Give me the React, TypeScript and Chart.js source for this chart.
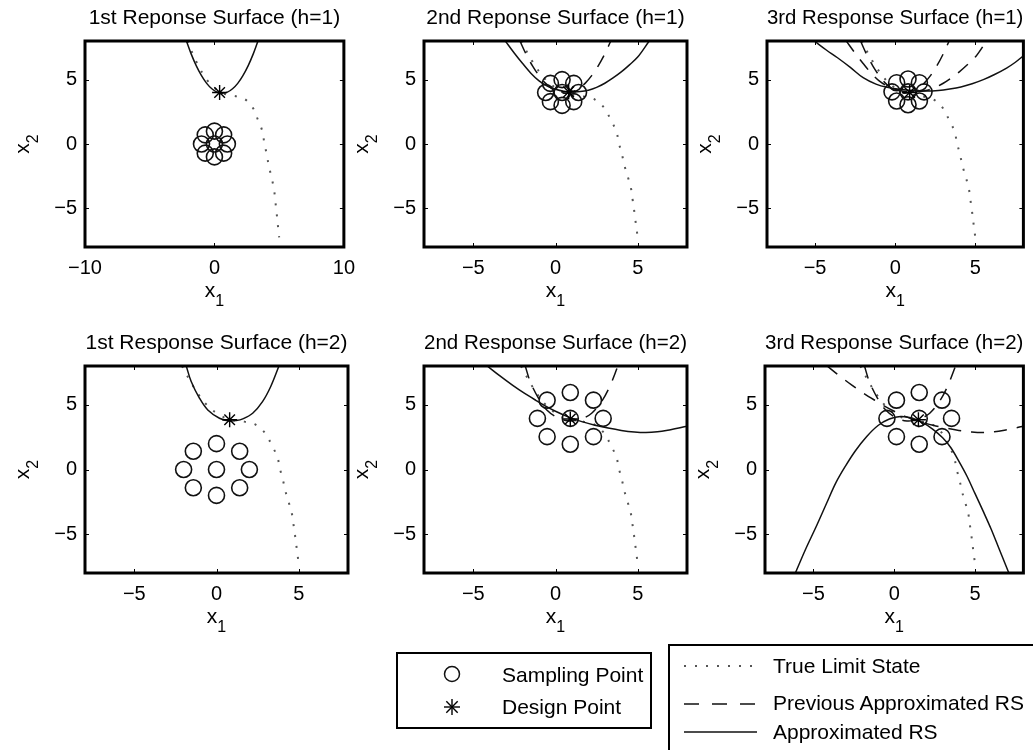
import React, { useEffect, useRef } from "react";
import { Chart, registerables } from "chart.js";

Chart.register(...registerables);

const FONT = '"Liberation Sans", Arial, Helvetica, sans-serif';

// ---------- data ----------
const PANEL_TITLES = [
  "1st Reponse Surface (h=1)",
  "2nd Reponse Surface (h=1)",
  "3rd Response Surface (h=1)",
  "1st Response Surface (h=2)",
  "2nd Response Surface (h=2)",
  "3rd Response Surface (h=2)",
];
const TICKS_WIDE = [-10, 0, 10];
const TICKS = [-5, 0, 5];
const Y_TICKS = [-5, 0, 5];

const LEGEND_MARKERS = ["Sampling Point", "Design Point"];
const LEGEND_LINES = ["True Limit State", "Previous Approximated RS", "Approximated RS"];

// true limit state
const TRUE_LS_X = [-2.1, -1.4, -0.6, 0.2, 0.9, 1.7, 2.4, 3.0, 3.35, 3.7, 3.85, 4.05, 4.2, 4.4, 4.6, 4.7, 4.8, 4.9, 5.0];
const TRUE_LS_Y = [8.0, 6.4, 5.0, 4.2, 3.85, 3.7, 3.45, 2.75, 1.9, 1.0, 0.1, -0.85, -1.7, -2.55, -3.5, -4.4, -5.3, -6.3, -7.25];

// approximated response surfaces, h = 1
const RS1_H1_X = [-2.15, -1.8, -1.4, -1.0, -0.6, -0.2, 0.2, 0.6, 1.0, 1.4, 1.8, 2.2, 2.6, 3.0, 3.35];
const RS1_H1_Y = [7.96, 7.0, 6.07, 5.31, 4.71, 4.29, 4.03, 3.95, 4.03, 4.29, 4.71, 5.31, 6.07, 7.0, 7.96];
const RS2_H1_X = [-3.05, -2.5, -2.0, -1.5, -1.0, -0.5, 0, 0.5, 1.0, 1.5, 2.0, 2.5, 3.0, 3.5, 4.0, 4.5, 5.0, 5.7];
const RS2_H1_Y = [8.0, 7.05, 6.25, 5.5, 4.9, 4.5, 4.25, 4.1, 4.05, 4.07, 4.18, 4.4, 4.72, 5.13, 5.6, 6.15, 6.75, 8.0];
const RS3_H1_X = [-5.05, -4.3, -3.6, -2.8, -2.0, -1.2, -0.5, 0.3, 1.1, 1.9, 2.7, 3.4, 4.1, 4.8, 5.5, 6.2, 6.95, 7.5, 8.0];
const RS3_H1_Y = [8.0, 7.3, 6.7, 5.95, 5.15, 4.65, 4.4, 4.25, 4.16, 4.12, 4.16, 4.27, 4.43, 4.68, 5.0, 5.4, 5.9, 6.35, 6.85];

// approximated response surfaces, h = 2
const RS1_H2_X = [-1.84, -1.54, -1.03, -0.53, 0.18, 0.79, 1.2, 1.6, 2.2, 2.8, 3.3, 3.8];
const RS1_H2_Y = [8.0, 6.8, 5.5, 4.6, 3.96, 3.75, 3.78, 3.91, 4.35, 5.25, 6.42, 8.0];
const RS2_H2_X = [-4.15, -3.4, -2.6, -1.9, -1.2, -0.6, 0, 0.8, 1.6, 2.4, 3.2, 4.0, 4.8, 5.5, 6.2, 7.0, 7.5, 8.0];
const RS2_H2_Y = [8.0, 7.25, 6.5, 5.9, 5.35, 4.9, 4.5, 4.05, 3.7, 3.42, 3.2, 3.02, 2.9, 2.86, 2.92, 3.08, 3.2, 3.35];
const RS3_H2_X = [-6.12, -5.5, -4.8, -4.2, -3.6, -3.0, -2.4, -1.7, -1.0, -0.3, 0.4, 1.1, 1.8, 2.4, 3.0, 3.5, 4.0, 4.5, 5.0, 5.5, 6.0, 6.5, 7.1];
const RS3_H2_Y = [-8.0, -6.2, -4.33, -2.65, -1.0, 0.3, 1.45, 2.55, 3.4, 3.9, 4.1, 3.98, 3.6, 3.1, 2.45, 1.7, 0.65, -0.5, -1.85, -3.2, -4.6, -6.15, -8.0];

// sampling points
const S1_H1_X = [0, 1, 0.71, 0, -0.71, -1, -0.71, 0, 0.71];
const S1_H1_Y = [0, 0, 0.71, 1, 0.71, 0, -0.71, -1, -0.71];
const S2_H1_X = [0.4, 1.4, 1.11, 0.4, -0.31, -0.6, -0.31, 0.4, 1.11];
const S2_H1_Y = [4.0, 4.0, 4.71, 5.0, 4.71, 4.0, 3.29, 3.0, 3.29];
const S3_H1_X = [0.8, 1.8, 1.51, 0.8, 0.09, -0.2, 0.09, 0.8, 1.51];
const S3_H1_Y = [4.05, 4.05, 4.76, 5.05, 4.76, 4.05, 3.34, 3.05, 3.34];
const S1_H2_X = [0, 2, 1.41, 0, -1.41, -2, -1.41, 0, 1.41];
const S1_H2_Y = [0, 0, 1.41, 2, 1.41, 0, -1.41, -2, -1.41];
const S2_H2_X = [0.9, 2.9, 2.31, 0.9, -0.51, -1.1, -0.51, 0.9, 2.31];
const S2_H2_Y = [3.95, 3.95, 5.36, 5.95, 5.36, 3.95, 2.54, 1.95, 2.54];
const S3_H2_X = [1.55, 3.55, 2.96, 1.55, 0.14, -0.45, 0.14, 1.55, 2.96];
const S3_H2_Y = [3.95, 3.95, 5.36, 5.95, 5.36, 3.95, 2.54, 1.95, 2.54];

// design points
const D1_H1: [number, number] = [0.4, 4.0];
const D2_H1: [number, number] = [0.8, 4.05];
const D3_H1: [number, number] = [0.9, 4.0];
const D1_H2: [number, number] = [0.8, 3.85];
const D2_H2: [number, number] = [0.9, 3.9];
const D3_H2: [number, number] = [1.5, 3.85];

// ---------- helpers ----------
const pts = (xs: number[], ys: number[]) => xs.map((x, i) => ({ x, y: ys[i] }));
const fmt = (v: number) => (v < 0 ? "\u2212" + Math.abs(v) : String(v));

interface Panel {
  title: string;
  left: number;
  top: number;
  width: number;
  height: number;
  axisH: number;
  rightPad: number;
  xMin: number;
  xMax: number;
  xTicks: number[];
  rs: [number[], number[]];
  prev: [number[], number[]][];
  samples: [number[], number[]];
  design: [number, number];
}

const PANELS: Panel[] = [
  { title: PANEL_TITLES[0], left: 0, top: 0, width: 364, height: 310, axisH: 63, rightPad: 15, xMin: -10, xMax: 10, xTicks: TICKS_WIDE, rs: [RS1_H1_X, RS1_H1_Y], prev: [], samples: [S1_H1_X, S1_H1_Y], design: D1_H1 },
  { title: PANEL_TITLES[1], left: 339, top: 0, width: 358, height: 310, axisH: 63, rightPad: 10, xMin: -8, xMax: 8, xTicks: TICKS, rs: [RS2_H1_X, RS2_H1_Y], prev: [[RS1_H1_X, RS1_H1_Y]], samples: [S2_H1_X, S2_H1_Y], design: D2_H1 },
  { title: PANEL_TITLES[2], left: 682, top: 0, width: 351, height: 310, axisH: 63, rightPad: 3, xMin: -8, xMax: 8, xTicks: TICKS, rs: [RS3_H1_X, RS3_H1_Y], prev: [[RS1_H1_X, RS1_H1_Y], [RS2_H1_X, RS2_H1_Y]], samples: [S3_H1_X, S3_H1_Y], design: D3_H1 },
  { title: PANEL_TITLES[3], left: 0, top: 325, width: 363, height: 310, axisH: 62, rightPad: 15, xMin: -8, xMax: 8, xTicks: TICKS, rs: [RS1_H2_X, RS1_H2_Y], prev: [], samples: [S1_H2_X, S1_H2_Y], design: D1_H2 },
  { title: PANEL_TITLES[4], left: 339, top: 325, width: 358, height: 310, axisH: 62, rightPad: 10, xMin: -8, xMax: 8, xTicks: TICKS, rs: [RS2_H2_X, RS2_H2_Y], prev: [[RS1_H2_X, RS1_H2_Y]], samples: [S2_H2_X, S2_H2_Y], design: D2_H2 },
  { title: PANEL_TITLES[5], left: 680, top: 325, width: 353, height: 310, axisH: 62, rightPad: 3, xMin: -8, xMax: 8, xTicks: TICKS, rs: [RS3_H2_X, RS3_H2_Y], prev: [[RS1_H2_X, RS1_H2_Y], [RS2_H2_X, RS2_H2_Y]], samples: [S3_H2_X, S3_H2_Y], design: D3_H2 },
];

const framePlugin = {
  id: "frame",
  afterDraw(chart: any) {
    const { ctx, chartArea: a, scales } = chart;
    const xs = scales.x;
    const ys = scales.y;
    ctx.save();
    // inward tick marks
    ctx.strokeStyle = "#000";
    ctx.lineWidth = 1;
    ctx.beginPath();
    xs.ticks.forEach((t: any) => {
      const px = Math.round(xs.getPixelForValue(t.value)) + 0.5;
      ctx.moveTo(px, a.bottom);
      ctx.lineTo(px, a.bottom - 4);
      ctx.moveTo(px, a.top);
      ctx.lineTo(px, a.top + 4);
    });
    ys.ticks.forEach((t: any) => {
      const py = Math.round(ys.getPixelForValue(t.value)) + 0.5;
      ctx.moveTo(a.left, py);
      ctx.lineTo(a.left + 4, py);
      ctx.moveTo(a.right, py);
      ctx.lineTo(a.right - 4, py);
    });
    ctx.stroke();
    // box
    ctx.lineWidth = 3;
    ctx.strokeRect(a.left, a.top, a.right - a.left, a.bottom - a.top);
    // axis titles x1 / x2
    ctx.fillStyle = "#000";
    ctx.textAlign = "left";
    ctx.textBaseline = "alphabetic";
    ctx.font = `21px ${FONT}`;
    const wx = ctx.measureText("x").width;
    ctx.font = `16px ${FONT}`;
    const w1 = ctx.measureText("1").width;
    const cx = (a.left + a.right) / 2;
    const sx = cx - (wx + w1) / 2;
    ctx.font = `21px ${FONT}`;
    ctx.fillText("x", sx, a.bottom + 50);
    ctx.font = `16px ${FONT}`;
    ctx.fillText("1", sx + wx, a.bottom + 59);
    const cy = (a.top + a.bottom) / 2;
    ctx.translate(a.left - 56, cy);
    ctx.rotate(-Math.PI / 2);
    const s2 = -(wx + w1) / 2;
    ctx.font = `21px ${FONT}`;
    ctx.fillText("x", s2, 0);
    ctx.font = `16px ${FONT}`;
    ctx.fillText("2", s2 + wx, 9);
    ctx.restore();
  },
};

function PanelChart({ p }: { p: Panel }) {
  const ref = useRef<HTMLCanvasElement | null>(null);
  useEffect(() => {
    if (!ref.current) return;
    const lineBase = { showLine: true, pointRadius: 0, fill: false, tension: 0.35, borderCapStyle: "butt" };
    const datasets: any[] = [
      {
        label: "Design Point",
        data: [{ x: p.design[0], y: p.design[1] }],
        pointStyle: "star",
        pointRadius: 7.5,
        borderWidth: 1.4,
        borderColor: "#000",
        backgroundColor: "#000",
        showLine: false,
      },
      {
        label: "Sampling Point",
        data: pts(p.samples[0], p.samples[1]),
        pointStyle: "circle",
        pointRadius: 8,
        borderWidth: 1.6,
        borderColor: "#111",
        backgroundColor: "rgba(0,0,0,0)",
        showLine: false,
      },
      {
        ...lineBase,
        label: "Approximated RS",
        data: pts(p.rs[0], p.rs[1]),
        borderColor: "#111",
        borderWidth: 1.5,
      },
      ...p.prev.map((pr) => ({
        ...lineBase,
        label: "Previous Approximated RS",
        data: pts(pr[0], pr[1]),
        borderColor: "#111",
        borderWidth: 1.5,
        borderDash: [13, 10],
      })),
      {
        ...lineBase,
        label: "True Limit State",
        data: pts(TRUE_LS_X, TRUE_LS_Y),
        borderColor: "#555",
        borderWidth: 2,
        borderDash: [2, 9],
      },
    ];
    const chart = new Chart(ref.current, {
      type: "scatter",
      data: { datasets },
      options: {
        animation: false,
        responsive: false,
        events: [],
        layout: { padding: { left: 0, right: p.rightPad, top: 0, bottom: 0 } },
        plugins: {
          legend: { display: false },
          tooltip: { enabled: false },
          title: {
            display: true,
            text: p.title,
            color: "#000",
            font: { family: FONT, size: 21, weight: "normal", lineHeight: 1.2 },
            padding: { top: 6, bottom: 9.8 },
            fullSize: false,
          },
        },
        scales: {
          x: {
            type: "linear",
            min: p.xMin,
            max: p.xMax,
            grid: { display: false, drawTicks: false },
            border: { display: false },
            ticks: {
              font: { family: FONT, size: 20 },
              color: "#000",
              padding: 9,
              maxRotation: 0,
              minRotation: 0,
              autoSkip: false,
              callback: (v: any) => fmt(Number(v)),
            },
            afterBuildTicks: (s: any) => {
              s.ticks = p.xTicks.map((v) => ({ value: v }));
            },
            afterFit: (s: any) => {
              s.height = p.axisH;
            },
          },
          y: {
            type: "linear",
            min: -8,
            max: 8,
            grid: { display: false, drawTicks: false },
            border: { display: false },
            ticks: {
              font: { family: FONT, size: 20 },
              color: "#000",
              padding: 8,
              autoSkip: false,
              callback: (v: any) => fmt(Number(v)),
            },
            afterBuildTicks: (s: any) => {
              s.ticks = Y_TICKS.map((v) => ({ value: v }));
            },
            afterFit: (s: any) => {
              s.width = 85;
            },
          },
        },
      } as any,
      plugins: [framePlugin],
    } as any);
    return () => chart.destroy();
  }, [p]);
  return (
    <canvas
      ref={ref}
      width={p.width}
      height={p.height}
      style={{ position: "absolute", left: p.left, top: p.top, width: p.width, height: p.height }}
    />
  );
}

function LegendText({ text, left, cy }: { text: string; left: number; cy: number }) {
  return (
    <div
      style={{
        position: "absolute",
        left,
        top: cy - 12,
        height: 24,
        lineHeight: "24px",
        fontFamily: FONT,
        fontSize: 21,
        color: "#000",
        whiteSpace: "nowrap",
      }}
    >
      {text}
    </div>
  );
}

export default function App() {
  return (
    <div
      style={{
        position: "absolute",
        left: 0,
        top: 0,
        width: 1033,
        height: 750,
        overflow: "hidden",
        background: "#fff",
      }}
    >
      {PANELS.map((p, i) => (
        <PanelChart key={i} p={p} />
      ))}
      <svg
        width={1033}
        height={750}
        style={{ position: "absolute", left: 0, top: 0, pointerEvents: "none" }}
      >
        <rect x={397} y={653} width={254} height={75} fill="#fff" stroke="#000" strokeWidth={2} />
        <rect x={669} y={645} width={420} height={200} fill="#fff" stroke="#000" strokeWidth={2} />
        <circle cx={452} cy={674} r={7.5} fill="none" stroke="#111" strokeWidth={1.5} />
        <g stroke="#000" strokeWidth={1.4}>
          <line x1={452} y1={699} x2={452} y2={715} />
          <line x1={444} y1={707} x2={460} y2={707} />
          <line x1={446.3} y1={701.3} x2={457.7} y2={712.7} />
          <line x1={446.3} y1={712.7} x2={457.7} y2={701.3} />
        </g>
        <line x1={684} y1={666} x2={757} y2={666} stroke="#555" strokeWidth={2} strokeDasharray="2 9" />
        <line x1={684} y1={704} x2={757} y2={704} stroke="#111" strokeWidth={1.5} strokeDasharray="15 13" />
        <line x1={684} y1={732} x2={757} y2={732} stroke="#111" strokeWidth={1.5} />
      </svg>
      <LegendText text={LEGEND_MARKERS[0]} left={502} cy={675} />
      <LegendText text={LEGEND_MARKERS[1]} left={502} cy={707} />
      <LegendText text={LEGEND_LINES[0]} left={773} cy={666} />
      <LegendText text={LEGEND_LINES[1]} left={773} cy={703} />
      <LegendText text={LEGEND_LINES[2]} left={773} cy={732} />
    </div>
  );
}
